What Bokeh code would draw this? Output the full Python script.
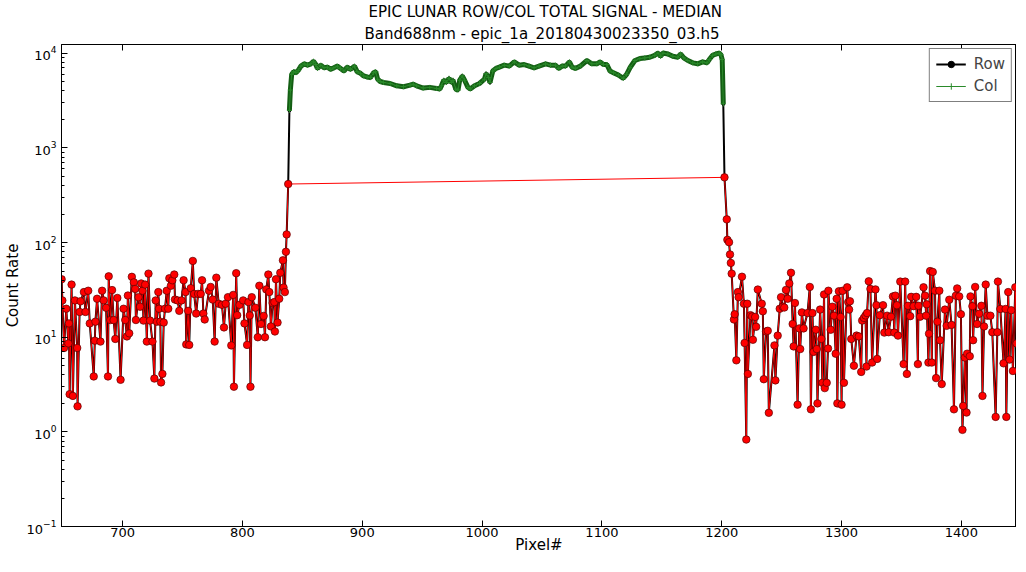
import numpy as np
from bokeh.plotting import figure
from bokeh.models import (Range1d, LinearAxis, Title, Legend, LegendItem, FixedTicker)
from bokeh.embed import file_html
from bokeh.resources import INLINE

# ---------------- data ----------------
x_ticks = [700, 800, 900, 1000, 1100, 1200, 1300, 1400]

red_left_x = [649.1, 649.7, 651.1, 653.0, 654.7, 655.2, 655.8, 657.4, 658.5, 660.2,
              662.1, 662.4, 664.1, 664.9, 667.7, 669.0, 671.3, 672.6, 675.9, 676.8,
              677.3, 678.7, 681.5, 682.9, 684.2, 686.2, 687.8, 688.4, 689.8, 691.2,
              692.5, 693.9, 695.6, 698.3, 700.8, 702.2, 703.6, 704.4, 705.5, 707.7,
              709.4, 710.5, 711.1, 713.3, 714.6, 715.5, 716.6, 717.4, 718.8, 720.2,
              721.6, 722.9, 724.9, 726.5, 727.6, 728.5, 729.8, 730.4, 731.5, 732.1,
              733.2, 734.3, 735.4, 736.8, 738.1, 739.0, 740.3, 741.5, 743.1, 743.7,
              745.9, 747.3, 749.2, 750.9, 752.5, 753.1, 754.7, 755.6, 756.9, 758.6,
              759.7, 761.4, 763.0, 765.2, 766.3, 767.4, 768.5, 772.1, 773.5, 775.2,
              776.8, 778.2, 780.2, 782.9, 784.6, 786.0, 787.9, 790.7, 792.3, 792.9,
              794.8, 795.6, 797.6, 800.6, 801.7, 803.9, 805.0, 806.1, 806.7, 807.8,
              810.8, 812.8, 814.1, 815.5, 817.7, 818.8, 819.9, 821.6, 822.4, 823.8,
              825.2, 826.6, 827.1, 828.0, 829.3, 830.7, 831.6, 833.8, 834.3, 835.4,
              836.3, 836.9, 838.2]
red_left_y = [41, 24.5, 7.7, 20, 8.6, 14, 2.5, 36, 2.4, 24.5,
              7.7, 1.86, 18.5, 24, 30, 18.5, 31, 14, 3.85, 9.2,
              14.6, 25.5, 9, 31, 24.5, 20.5, 3.85, 44, 15.2, 31.5,
              15.2, 9.6, 26, 3.55, 20, 15.2, 10.2, 27.6, 11, 43.5,
              38, 32.4, 15.2, 26.5, 21, 37, 31, 15, 36, 9,
              47, 15, 9, 3.66, 24.5, 14.6, 30, 20, 14.6, 3.33,
              4.1, 14.3, 20, 31, 20, 42, 35, 40, 46, 25,
              24.5, 19, 24.5, 40, 30, 8.4, 19, 8.3, 33, 64,
              28.7, 17.8, 28.7, 28.7, 40, 17.8, 15.4, 31, 34, 25,
              9, 42.6, 22.6, 22, 12.7, 22.6, 26.5, 8.2, 28, 3.0,
              47.5, 17.1, 22, 24.5, 14, 8.3, 23.5, 17, 3.0, 26.5,
              20.5, 10, 35, 13.8, 16.8, 10, 32, 46, 30, 13,
              23, 23.5, 11.5, 41, 14.3, 25.5, 48, 65, 33.5, 30,
              80, 122, 416]

red_right_x = [1202.3, 1204.2, 1204.7, 1206.1, 1206.9, 1207.6, 1208.3, 1210.2, 1210.8, 1212.2,
               1213.5, 1214.1, 1216.9, 1218.5, 1219.1, 1220.5, 1221.3, 1221.8, 1224.0, 1225.4,
               1226.0, 1227.9, 1228.7, 1230.1, 1233.4, 1234.3, 1235.1, 1237.0, 1238.4, 1239.3,
               1244.0, 1244.8, 1246.7, 1248.4, 1249.5, 1250.9, 1252.2, 1253.6, 1255.0, 1256.4,
               1257.8, 1259.2, 1260.0, 1261.1, 1263.3, 1264.7, 1265.5, 1266.9, 1268.3, 1271.6,
               1273.5, 1274.4, 1275.7, 1276.6, 1278.5, 1279.3, 1279.9, 1282.1, 1283.2, 1284.0,
               1285.4, 1286.0, 1287.6, 1288.7, 1289.0, 1290.9, 1292.3, 1293.7, 1295.1, 1295.9,
               1296.5, 1297.8, 1299.2, 1300.0, 1300.9, 1302.0, 1304.7, 1305.6, 1306.3, 1307.0,
               1308.1, 1310.3, 1312.5, 1314.4, 1316.4, 1317.2, 1318.6, 1320.0, 1320.8, 1321.3,
               1322.7, 1324.1, 1325.5, 1328.3, 1329.1, 1329.7, 1331.9, 1334.6, 1335.7, 1338.0,
               1339.3, 1341.3, 1342.9, 1344.0, 1344.9, 1346.2, 1347.1, 1349.0, 1351.8, 1353.1,
               1354.5, 1355.4, 1357.3, 1358.1, 1360.1, 1362.3, 1363.7, 1364.2, 1365.6, 1368.4,
               1369.7, 1370.6, 1371.1, 1372.5, 1373.0, 1373.9, 1375.3, 1376.1, 1378.0, 1378.9,
               1380.0, 1381.6, 1382.2, 1383.6, 1386.3, 1387.7, 1389.9, 1391.8, 1393.8, 1395.4,
               1396.5, 1398.2, 1399.6, 1400.9, 1401.5, 1402.9, 1404.3, 1404.8, 1407.0, 1407.6,
               1409.2, 1409.8, 1411.5, 1413.1, 1414.8, 1416.7, 1417.6, 1418.9, 1420.3, 1421.7,
               1424.2, 1425.8, 1428.6, 1430.0, 1430.5, 1432.5, 1435.2, 1436.9, 1437.5, 1439.1,
               1440.2, 1441.6, 1443.0, 1445.0, 1446.0]
red_right_y = [489, 176, 107, 101, 75, 61, 47, 15.4, 17.5, 5.7,
               30, 26.5, 43.6, 22.6, 8.7, 0.83, 22.6, 4.1, 17.1, 16.6,
               9.4, 16.4, 12.9, 31.9, 22.6, 18.8, 3.6, 11.5, 11.7, 1.59,
               8.2, 3.5, 10.4, 20, 26.5, 21, 20.6, 31.6, 25.5, 37,
               48, 13.8, 8.0, 23, 1.94, 12.4, 7.5, 18.3, 12.4, 18,
               34, 1.73, 18, 7.0, 12, 7.5, 2.0, 19.6, 9.6, 3.3,
               28.3, 2.9, 3.3, 7.6, 31, 12, 21, 16.9, 6.7, 25.5,
               2.0, 30.6, 16.4, 1.94, 31, 3.3, 33.7, 23.5, 19.6, 24,
               9.6, 5.0, 10.4, 10.2, 4.3, 15, 16, 17, 4.9, 18,
               39, 32.4, 5.4, 32, 21.8, 5.9, 17.1, 21.8, 11.2, 16.9,
               11.3, 16.5, 27, 11.2, 27.5, 21.8, 10.4, 38.7, 5.2, 38.7,
               4.1, 21.5, 16.7, 26.7, 21.3, 26.7, 5.2, 21.5, 16.5, 33.7,
               27.5, 16.9, 22.3, 5.4, 10.9, 50, 5.4, 49, 31, 3.7,
               14.6, 31, 9.3, 3.2, 19.6, 13.2, 24.9, 13.5, 1.73, 27.5,
               32.8, 27, 17.5, 1.05, 1.88, 6.1, 1.6, 6.7, 6.3, 27,
               21.3, 9.3, 34, 13.8, 17.7, 21.5, 2.4, 13, 36, 16.9,
               16.9, 11.3, 1.44, 11.3, 38.7, 19.9, 5.3, 19.9, 1.44, 30,
               5.8, 19.3, 4.4, 33.7, 8.6]

col_x = [839.2, 840.0, 841.1, 842.7, 844.7, 846.6, 848.8, 851.6, 854.3, 857.1,
         859.3, 861.2, 862.6, 865.4, 868.1, 870.9, 873.7, 876.4, 879.2, 881.9,
         884.7, 887.4, 890.2, 893.5, 895.7, 898.5, 901.2, 904.0, 906.8, 909.5,
         911.2, 912.8, 915.0, 917.8, 923.3, 928.8, 934.4, 939.9, 942.6, 945.4,
         950.9, 956.4, 962.0, 964.7, 966.1, 968.0, 970.2, 972.4, 974.4, 975.7,
         978.0, 979.9, 981.3, 983.5, 985.4, 988.2, 990.1, 993.7, 997.8, 1002.0,
         1003.3, 1005.5, 1006.6, 1008.9, 1011.6, 1014.4, 1018.5, 1022.7, 1026.8, 1030.9,
         1035.1, 1039.2, 1043.4, 1047.5, 1053.0, 1057.1, 1061.3, 1064.0, 1066.8, 1069.6,
         1072.9, 1075.1, 1077.8, 1082.0, 1087.5, 1091.6, 1095.8, 1098.5, 1101.3, 1104.1,
         1106.8, 1109.6, 1113.7, 1117.9, 1120.6, 1123.4, 1127.5, 1131.7, 1135.8, 1139.9,
         1144.1, 1146.8, 1149.0, 1151.0, 1155.1, 1159.2, 1163.4, 1165.6, 1168.4, 1171.7,
         1175.8, 1179.9, 1184.1, 1187.7, 1189.6, 1192.4, 1195.1, 1197.9, 1199.3, 1200.4,
         1201.3]
col_y = [2495, 4090, 5995, 6400, 6250, 6610, 7330, 7750, 7500, 7750,
         8260, 7620, 6930, 7500, 7040, 7150, 6770, 7040, 7330, 6930,
         6500, 7150, 6770, 7330, 6400, 6150, 5770, 5630, 5540, 6250,
         6400, 5330, 5040, 4920, 4800, 4540, 4440, 4620, 4720, 4540,
         4300, 4370, 4260, 4190, 4540, 5200, 4920, 5450, 4920, 5200,
         4190, 4090, 5200, 5770, 5200, 4370, 4190, 4540, 4800, 5330,
         6100, 5540, 4920, 6500, 6930, 7150, 7500, 7330, 8130, 7500,
         7620, 7330, 7040, 7330, 7750, 7500, 7500, 6930, 7330, 7330,
         8130, 7150, 6930, 7330, 8400, 7750, 7750, 8130, 7620, 7620,
         6500, 6250, 5900, 5450, 6000, 7040, 8400, 8810, 8950, 9090,
         9530, 10070, 9300, 10070, 9840, 9300, 9090, 9840, 8950, 8400,
         7930, 7750, 8130, 7930, 8600, 9530, 9840, 10070, 9680, 8600,
         2920]

# ---------------- figure ----------------
p = figure(width=1016, height=556, x_range=Range1d(649, 1446), y_range=Range1d(0.1, 12400),
           y_axis_type="log", output_backend="svg", toolbar_location=None,
           min_border_left=50, min_border_right=0, min_border_top=0, min_border_bottom=20,
           background_fill_color="white", border_fill_color="white")
p.grid.visible = False
p.outline_line_color = "black"
p.outline_line_width = 1

# full row trace (black), drawn underneath
row_x = np.concatenate([red_left_x, col_x, red_right_x])
row_y = np.concatenate([red_left_y, col_y, red_right_y])
order = np.argsort(row_x)
r_row = p.line(row_x[order], row_y[order], line_color="black", line_width=2)
r_row_pts = p.scatter(row_x[order], row_y[order], size=3, fill_color="black", line_color="black")

# column trace (green)
p.line(col_x, col_y, line_color="#145e14", line_width=5)
r_col = p.line(col_x, col_y, line_color="#2a8a2a", line_width=1)
r_col_pts = p.scatter(col_x, col_y, marker="cross", size=5, line_color="#2a8a2a", line_width=1)

# thresholded (red)
red_x = red_left_x + red_right_x
red_y = red_left_y + red_right_y
p.line(red_x, red_y, line_color="#ff0000", line_width=1)
p.scatter(red_x, red_y, size=7.5, fill_color="#ff0000", line_color="#5a0000", line_width=0.7)

legend = Legend(items=[LegendItem(label="Row", renderers=[r_row, r_row_pts]),
                       LegendItem(label="Col", renderers=[r_col, r_col_pts])],
                location="top_right", border_line_color="black", border_line_width=1,
                label_text_font="DejaVu Sans", label_text_font_size="15px",
                glyph_width=30, glyph_height=16, spacing=4, padding=6, margin=4,
                label_standoff=8, background_fill_alpha=1)
p.add_layout(legend)

# axes
def style(ax, labels=True):
    ax.major_tick_in = 6
    ax.major_tick_out = 0
    ax.minor_tick_in = 3
    ax.minor_tick_out = 0
    ax.axis_line_color = "black"
    ax.major_tick_line_color = "black"
    ax.minor_tick_line_color = "black"
    ax.major_label_text_font = "DejaVu Sans"
    ax.major_label_text_font_size = "13px"
    ax.major_label_text_color = "black" if labels else None
    ax.axis_label_text_font = "DejaVu Sans"
    ax.axis_label_text_font_size = "15px"
    ax.axis_label_text_font_style = "normal"
    ax.axis_label_text_color = "black"

xa = p.xaxis[0]
xa.ticker = FixedTicker(ticks=x_ticks)
style(xa)
xa.minor_tick_line_color = None
xa.axis_label = "Pixel#"
xa.major_label_standoff = 1
xa.axis_label_standoff = -4

ya = p.yaxis[0]
style(ya)
ya.axis_label = "Count Rate"
ya.major_label_standoff = 5
ya.axis_label_standoff = 2

top = LinearAxis(ticker=FixedTicker(ticks=x_ticks))
style(top, labels=False)
top.minor_tick_line_color = None
top.major_label_standoff = 0
top.major_label_text_font_size = "8px"
p.add_layout(top, "above")

p.add_layout(Title(text="Band688nm - epic_1a_20180430023350_03.h5", align="left",
                   text_font="DejaVu Sans", text_font_size="15px", text_font_style="normal",
                   text_color="black", offset=303, standoff=4, text_line_height=1.1), "above")
p.add_layout(Title(text="EPIC LUNAR ROW/COL TOTAL SIGNAL - MEDIAN", align="left",
                   text_font="DejaVu Sans", text_font_size="15px", text_font_style="normal",
                   text_color="black", offset=307, standoff=0, text_line_height=1.0), "above")

open("out.html", "w").write(file_html(p, INLINE))
